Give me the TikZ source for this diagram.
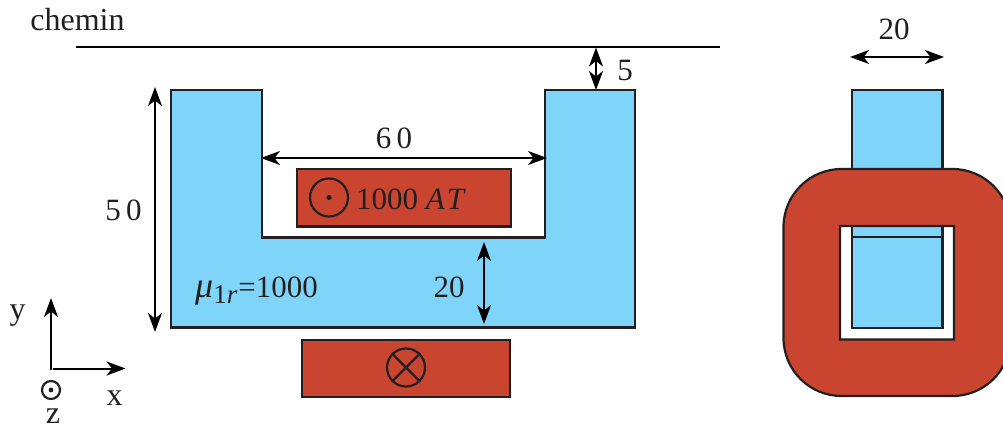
\documentclass[tikz,border=0pt]{standalone}
\usepackage{fontspec}
\setmainfont{Liberation Serif}
\usetikzlibrary{arrows.meta}
\definecolor{coreblue}{HTML}{7FD5F9}
\definecolor{coilred}{HTML}{C9452F}
\definecolor{ink}{HTML}{231F20}
\tikzset{
  px/.style={x=1pt,y=-1pt},
  outline/.style={draw=ink,line width=2.2pt,line join=miter},
  core/.style={outline,fill=coreblue},
  coil/.style={outline,fill=coilred},
  tipped/.style={draw=black,line width=2pt,{Stealth[length=19pt,width=14pt,inset=5.5pt]}-{Stealth[length=19pt,width=14pt,inset=5.5pt]}},
  axis/.style={draw=black,line width=2pt,-{Stealth[length=19pt,width=14pt,inset=5.5pt]}},
  lab/.style={font=\fontsize{31}{31}\selectfont,text=ink,inner sep=0pt,anchor=base},
  sym/.style={draw=ink,line width=2.2pt,circle,minimum size=38pt,inner sep=0pt}
}
\begin{document}
\begin{tikzpicture}[px]
\useasboundingbox (0,0) rectangle (1003,425);
\clip (0,0) rectangle (1003,425);
% path line
\coordinate (pl) at (76,47.5); \coordinate (pr) at (720,47.5);
\draw[draw=black,line width=2pt] (pl) -- (pr);
\node[lab,font=\fontsize{32}{32}\selectfont] (chemin) at (77.5,30.5) {chemin};
% U core
\draw[core] (171,90) -- (262,90) -- (262,237.5) -- (545,237.5) -- (545,90) -- (635,90) -- (635,327.5) -- (171,327.5) -- cycle;
% coils
\draw[coil] (297,169) rectangle (511,226.5);
\draw[coil] (302,340) rectangle (510,397);
\node[sym] (dotc) at (329,197.5) {};
\fill[ink] (dotc.center) circle (2.6);
\node[sym] (crossc) at (406,367.5) {};
\draw[ink,line width=2.2pt] (crossc.north west) -- (crossc.south east);
\draw[ink,line width=2.2pt] (crossc.north east) -- (crossc.south west);
\node[lab] (at) at (411,209) {1000 \textit{A\kern2pt T}};
% dimensions
\coordinate (a1) at (155,87); \coordinate (a2) at (155,332);
\draw[tipped] (a1) -- (a2);
\node[lab] (fifty) at (123.5,220) {5\,0};
\coordinate (b1) at (261,158); \coordinate (b2) at (547,158);
\draw[tipped] (b1) -- (b2);
\node[lab] (sixty) at (394,148) {6\,0};
\coordinate (c1) at (484,242); \coordinate (c2) at (484,324);
\draw[tipped] (c1) -- (c2);
\node[lab] (twentya) at (449,297) {20};
\coordinate (d1) at (596,47.5); \coordinate (d2) at (596,90);
\draw[tipped] (d1) -- (d2);
\node[lab] (five) at (625,81) {5};
\node[lab,anchor=base west] (mu) at (195,297) {{\fontsize{36}{36}\selectfont\textit{μ}}\raisebox{-6pt}{\fontsize{27}{27}\selectfont 1\textit{r}}\kern1pt=1000};
% side view
\fill[white] (840,226) rectangle (954,339.5);
\draw[core] (852,90) rectangle (942.5,328);
\coordinate (l1) at (852,237); \coordinate (l2) at (942.5,237);
\draw[outline] (l1) -- (l2);
\draw[outline,fill=coilred,even odd rule,rounded corners=0pt]
  (841,169) [rounded corners=58pt] -- (783.5,169) -- (783.5,396) -- (1010.5,396) -- (1010.5,169) -- (841,169)
  [rounded corners=0pt] (840,226) -- (954,226) -- (954,339.5) -- (840,339.5) -- cycle;
\coordinate (e1) at (850,57); \coordinate (e2) at (944,57);
\draw[tipped] (e1) -- (e2);
\node[lab] (twentyb) at (894,40) {20};
% axes
\coordinate (o) at (51,369.5); \coordinate (oy) at (51,298); \coordinate (ox) at (125.5,368.5); \coordinate (ox0) at (53,368.5);
\draw[axis] (o) -- (oy);
\draw[axis] (ox0) -- (ox);
\node[draw=ink,line width=2.2pt,circle,minimum size=18pt,inner sep=0pt] (zc) at (51,390) {};
\fill[ink] (zc.center) circle (2.4);
\node[lab,font=\fontsize{32}{32}\selectfont] (ylab) at (17.5,319) {y};
\node[lab,font=\fontsize{32}{32}\selectfont] (xlab) at (114.5,405) {x};
\node[lab,font=\fontsize{32}{32}\selectfont] (zlab) at (53,423) {z};
\end{tikzpicture}
\end{document}
